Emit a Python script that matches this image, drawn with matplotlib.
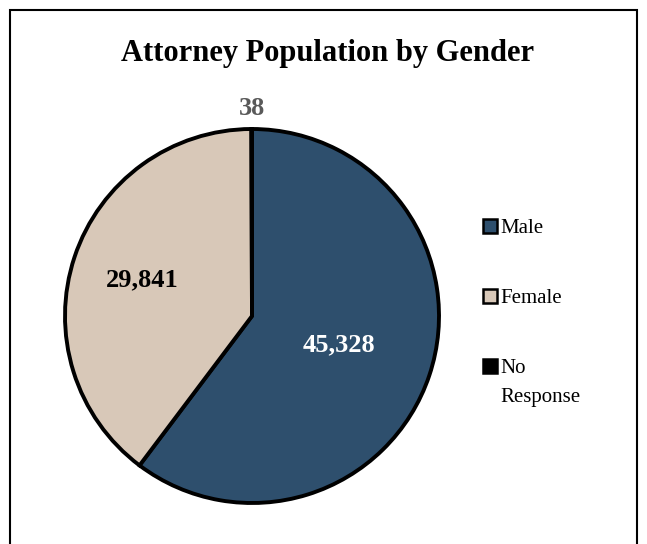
import numpy as np
import matplotlib.pyplot as plt
from matplotlib.patches import Rectangle

categories = ['Male', 'Female', 'No\nResponse']
counts = [45328, 29841, 38]
value_labels = ['45,328', '29,841', '38']
colors = ['#2E4F6D', '#D8C8B8', '#000000']
label_colors = ['white', 'black', '#595959']

plt.rcParams['font.family'] = ['Liberation Serif', 'DejaVu Serif']

fig = plt.figure(figsize=(6.47, 5.44), dpi=100)
W, H = 647, 544

# outer border (bottom edge falls off the image like the original)
fig.patches.append(Rectangle((10 / W, -0.05), 627 / W, (534 / H) + 0.05,
                             transform=fig.transFigure, fill=False,
                             edgecolor='black', linewidth=1.5))

fig.text(328 / W, 1 - 53 / H, 'Attorney Population by Gender', ha='center', va='center',
         fontsize=22, fontweight='bold')

cx, cy, r = 252, 316, 187
ax = fig.add_axes([(cx - r) / W, (H - cy - r) / H, 2 * r / W, 2 * r / H])
wedges, _ = ax.pie(counts, colors=colors, startangle=90, counterclock=False,
                   wedgeprops=dict(edgecolor='black', linewidth=2.8))
ax.set_xlim(-1, 1)
ax.set_ylim(-1, 1)
ax.set_aspect('equal')
ax.axis('off')

# label distances as fraction of radius
dists = [0.49, 0.62, 1.11]
for w, lab, col, d in zip(wedges, value_labels, label_colors, dists):
    ang = np.deg2rad((w.theta1 + w.theta2) / 2)
    ax.text(d * np.cos(ang), d * np.sin(ang), lab, ha='center', va='center',
            fontsize=19, fontweight='bold', color=col, clip_on=False)

# legend drawn by hand so the square sits on the first line of "No Response"
for i, (cat, c) in enumerate(zip(categories, colors)):
    base = 233 + 70 * i
    fig.patches.append(Rectangle((483 / W, 1 - base / H), 14 / W, 14 / H,
                                 transform=fig.transFigure, facecolor=c,
                                 edgecolor='black', linewidth=1.8))
    for j, line in enumerate(cat.split('\n')):
        fig.text(500 / W, 1 - (base + 29 * j) / H, line, ha='left', va='baseline',
                 fontsize=15)

fig.savefig('out.png', dpi=100)
